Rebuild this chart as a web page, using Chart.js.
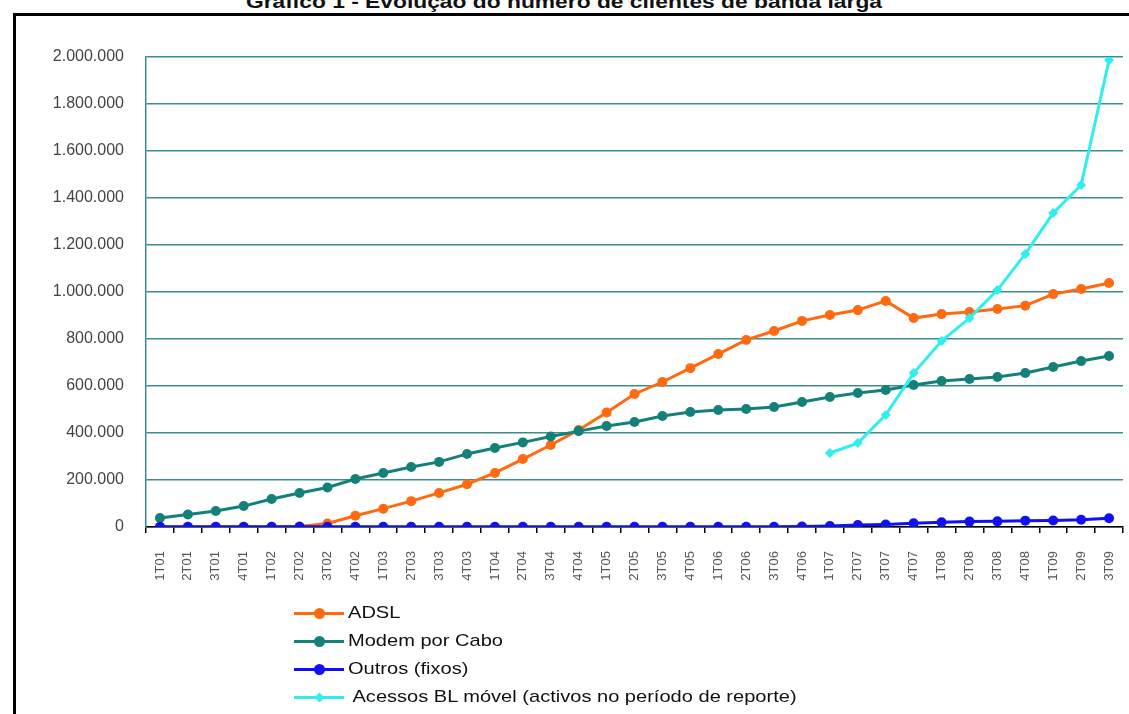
<!DOCTYPE html>
<html>
<head>
<meta charset="utf-8">
<script src="https://cdn.jsdelivr.net/npm/chart.js@4.4.1/dist/chart.umd.min.js"></script>
<style>
  html, body { margin: 0; padding: 0; background: #fff; }
  body { width: 1129px; height: 714px; position: relative; overflow: hidden; font-family: "Liberation Sans", Arial, sans-serif; }
  #title { position: absolute; left: 0; width: 1129px; top: -9px; text-align: center; font-weight: bold; font-size: 19px; line-height: 22px; color: #111; white-space: nowrap; transform: scaleX(1.2); transform-origin: 567px 0; }
  #frame { position: absolute; left: 13px; top: 13px; width: 1200px; height: 800px; border: 3px solid #000; box-sizing: border-box; }
  #wrap { position: absolute; left: 0; top: 0; width: 1129px; height: 714px; }
  #legend { position: absolute; left: 294px; top: 599px; font-size: 17px; color: #111; }
  .item { height: 28px; display: flex; align-items: center; position: relative; }
  .line { width: 50px; height: 3px; position: relative; margin-right: 4px; flex: none; }
  .dot { position: absolute; left: 20px; top: -4px; width: 11px; height: 11px; border-radius: 50%; }
  .dia { position: absolute; left: 22px; top: -2px; width: 7px; height: 7px; transform: rotate(45deg); }
  .txt { white-space: pre; display: inline-block; transform: scaleX(1.18); transform-origin: 0 50%; }
</style>
</head>
<body>
<div id="title">Gráfico 1 - Evolução do número de clientes de banda larga</div>
<div id="frame"></div>
<div id="wrap"><canvas id="c" width="1129" height="714"></canvas></div>
<div id="legend"></div>
<script>
const categories = ["1T01","2T01","3T01","4T01","1T02","2T02","3T02","4T02","1T03","2T03","3T03","4T03",
  "1T04","2T04","3T04","4T04","1T05","2T05","3T05","4T05","1T06","2T06","3T06","4T06",
  "1T07","2T07","3T07","4T07","1T08","2T08","3T08","4T08","1T09","2T09","3T09"];

const adsl = [0,0,0,0,0,2000,15000,48000,78000,110000,145000,182000,
  230000,289000,349000,413000,487000,566000,617000,676000,736000,796000,834000,877000,
  902000,923000,962000,889000,906000,915000,928000,942000,991000,1013000,1038000];

const cabo = [38000,53000,68000,89000,119000,145000,168000,204000,230000,255000,277000,311000,
  336000,360000,385000,408000,430000,447000,472000,489000,498000,502000,511000,532000,
  553000,570000,583000,604000,621000,630000,638000,655000,681000,706000,728000];

const outros = [1000,1000,1000,1000,1000,1000,1000,1000,1000,1000,1000,1000,
  1000,1000,1000,1000,1000,1000,1000,1000,1000,1000,1000,2000,
  4000,8000,11000,16000,20000,23000,24000,27000,28000,31000,37000];

const movel = [null,null,null,null,null,null,null,null,null,null,null,null,
  null,null,null,null,null,null,null,null,null,null,null,null,
  315000,357000,477000,655000,791000,889000,1008000,1162000,1336000,1455000,1987000];

const seriesNames = ["ADSL", "Modem por Cabo", "Outros (fixos)", " Acessos BL móvel (activos no período de reporte)"];
const seriesColors = ["#FF6A10", "#14807A", "#1010F0", "#30EEEE"];
const yTicks = [0,200000,400000,600000,800000,1000000,1200000,1400000,1600000,1800000,2000000];

function fmt(v){ return v.toString().replace(/\B(?=(\d{3})+(?!\d))/g, "."); }

const ds = [adsl, cabo, outros, movel].map((d, i) => ({
  label: seriesNames[i],
  data: d,
  borderColor: seriesColors[i],
  backgroundColor: seriesColors[i],
  borderWidth: 3,
  pointRadius: 5,
  pointStyle: i === 3 ? 'rectRot' : 'circle',
  pointBorderWidth: 0,
  tension: 0,
  spanGaps: false,
  order: [3,2,1,0][i]
}));

new Chart(document.getElementById('c'), {
  type: 'line',
  data: { labels: categories, datasets: ds },
  options: {
    responsive: false,
    animation: false,
    layout: { padding: { left: 0, top: 57, right: 6, bottom: 0 } },
    plugins: { legend: { display: false }, tooltip: { enabled: false }, title: { display: false } },
    scales: {
      x: {
        offset: true,
        grid: { offset: true, drawOnChartArea: false, drawTicks: true, tickLength: 6, color: '#000', lineWidth: 1.5 },
        border: { color: '#000', width: 1.5 },
        ticks: { color: '#555', font: { family: 'Liberation Sans', size: 13 }, minRotation: 90, maxRotation: 90, padding: 18, autoSkip: false },
        afterFit: s => { s.height = 187; s.paddingLeft = 0; s.paddingRight = 0; }
      },
      y: {
        min: 0, max: 2000000,
        afterBuildTicks: s => { s.ticks = yTicks.map(v => ({ value: v })); },
        grid: { color: '#3B8E8E', lineWidth: 1.5, drawTicks: false },
        border: { color: '#3B8E8E', width: 1.5 },
        ticks: { color: '#444', font: { family: 'Liberation Sans', size: 16 }, padding: 22, callback: v => fmt(v) },
        afterFit: s => { s.width = 146; s.paddingTop = 0; s.paddingBottom = 0; }
      }
    }
  }
});

const leg = document.getElementById('legend');
seriesNames.forEach((n, i) => {
  const it = document.createElement('div'); it.className = 'item';
  const ln = document.createElement('div'); ln.className = 'line'; ln.style.background = seriesColors[i];
  const mk = document.createElement('div'); mk.className = i === 3 ? 'dia' : 'dot'; mk.style.background = seriesColors[i];
  ln.appendChild(mk);
  const tx = document.createElement('span'); tx.className = 'txt'; tx.textContent = n;
  it.appendChild(ln); it.appendChild(tx); leg.appendChild(it);
});
</script>
</body>
</html>
